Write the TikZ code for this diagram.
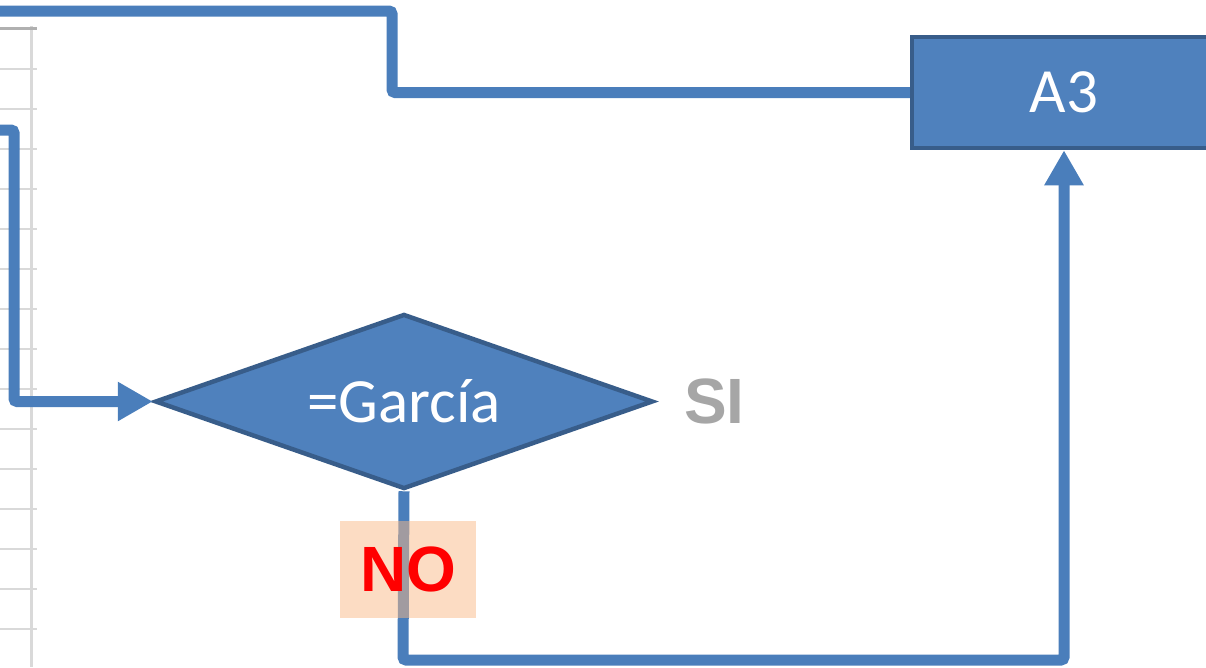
\documentclass[tikz,border=0pt]{standalone}
\usepackage{fontspec}
\setmainfont{Carlito}
\newfontfamily\arialfont{Liberation Sans}
\usetikzlibrary{shapes.geometric,arrows.meta}
\definecolor{shapefill}{HTML}{4F81BD}
\definecolor{shapeline}{HTML}{385D8A}
\definecolor{conn}{HTML}{4A7EBB}
\definecolor{gridgray}{HTML}{D9D9D9}
\definecolor{gridtop}{HTML}{B0B0B0}
\definecolor{sigray}{HTML}{A6A6A6}
\definecolor{peach}{RGB}{249,185,135}
\tikzset{
  flowshape/.style={fill=shapefill,draw=shapeline,line width=4.5pt,text=white,inner sep=0pt,
    font=\fontsize{63}{70}\selectfont},
  connector/.style={draw=conn,line width=11pt,rounded corners=3pt},
  arrowconn/.style={connector,-{Triangle[length=35pt,width=37pt]}},
  labeltext/.style={font=\arialfont\bfseries\fontsize{64}{70}\selectfont,inner sep=0pt},
  gridline/.style={draw=gridgray,line width=2.5pt}
}
\begin{document}
\begin{tikzpicture}[x=1pt,y=-1pt]
\useasboundingbox (0,0) rectangle (1206,667);
% spreadsheet grid at left
\draw[gridline] (31.5,26) -- (31.5,667);
\foreach \k in {1,...,15} {
  \draw[gridline] (0,29+40*\k) -- (37,29+40*\k);
}
\draw[draw=gridtop,line width=3pt] (0,28) -- (37,28);
% nodes
\node[flowshape,rectangle,minimum width=304pt,minimum height=111pt] (a3) at (1064,92.5) {A3};
\node[flowshape,diamond,minimum width=498pt,minimum height=175pt,aspect=2.85] (garcia) at (404,401.5) {=García};
\node[labeltext,text=sigray] (si) at (714.5,401) {SI};
\coordinate (topend) at (-10,11);
\coordinate (leftstart) at (-10,130);
% connectors
\draw[connector] (a3.west) -- (392,92.5) -- (392,11) -- (topend);
\draw[arrowconn] (leftstart) -- (14,130) -- (14,401.5) -- (garcia.west);
\draw[arrowconn] (garcia.south) -- (403,660) -- (1064,660) -- (a3.south);
% NO label box
\node[fill=peach,fill opacity=0.5,minimum width=136pt,minimum height=97pt,inner sep=0pt] (nobox) at (408,569) {};
\node[labeltext,text=red] (no) at (nobox.center) {NO};
\end{tikzpicture}
\end{document}
